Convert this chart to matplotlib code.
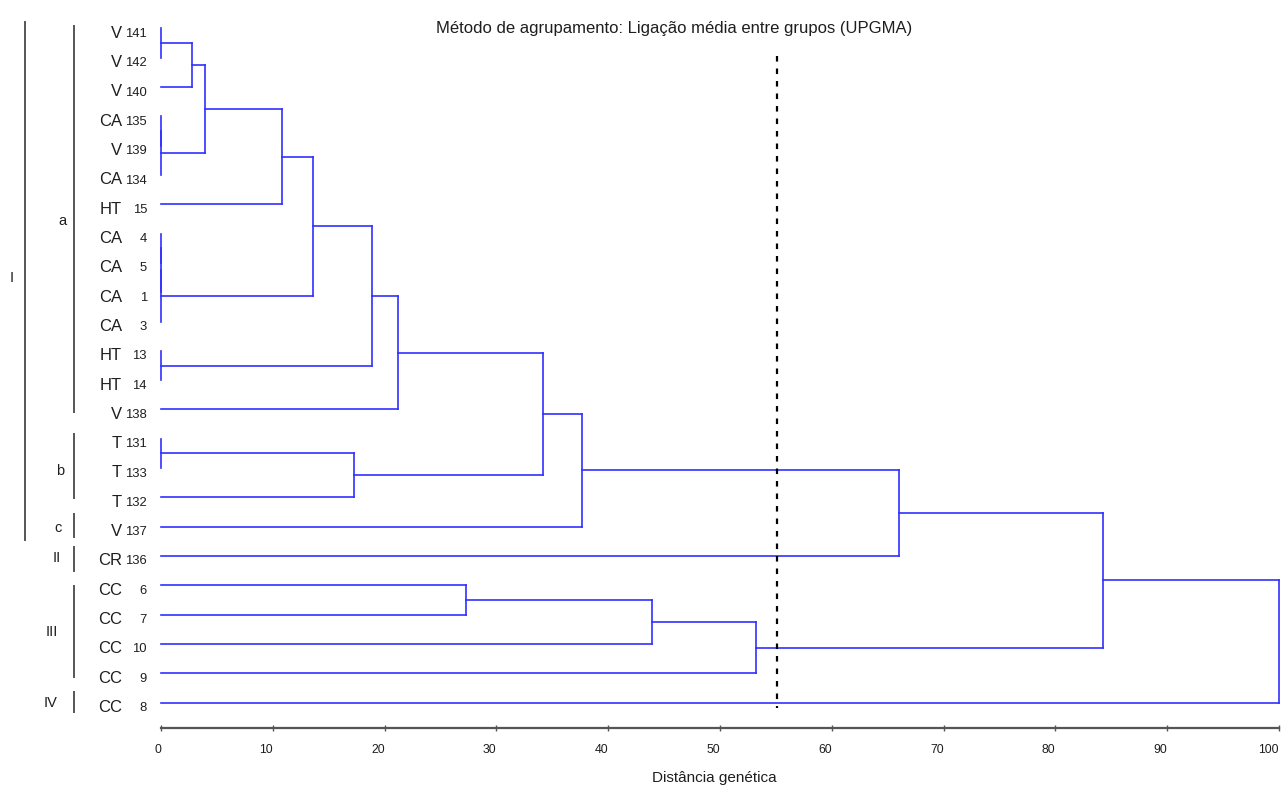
import matplotlib
matplotlib.use("Agg")
import matplotlib.pyplot as plt
from matplotlib.transforms import blended_transform_factory

plt.rcParams["font.family"] = ["Liberation Sans", "DejaVu Sans"]
plt.rcParams["lines.scale_dashes"] = False

# leaves, top to bottom
LEAF_PREFIX = ["V", "V", "V", "CA", "V", "CA", "HT", "CA", "CA", "CA", "CA", "HT",
               "HT", "V", "T", "T", "T", "V", "CR", "CC", "CC", "CC", "CC", "CC"]
LEAF_NUM = ["141", "142", "140", "135", "139", "134", "15", "4", "5", "1", "3", "13",
            "14", "138", "131", "133", "132", "137", "136", "6", "7", "10", "9", "8"]

# merges: (child a, child b, distance); leaves are 0..23, new clusters 24, 25, ...
MERGES = [
    (0, 1, 0.0), (24, 2, 2.8), (3, 4, 0.0), (26, 5, 0.0), (25, 27, 3.9),
    (28, 6, 10.8), (7, 8, 0.0), (30, 9, 0.0), (31, 10, 0.0), (29, 32, 13.6),
    (11, 12, 0.0), (33, 34, 18.9), (35, 13, 21.2), (14, 15, 0.0), (37, 16, 17.3),
    (36, 38, 34.2), (39, 17, 37.7), (40, 18, 66.0), (19, 20, 27.3), (42, 21, 43.9),
    (43, 22, 53.2), (41, 44, 84.3), (45, 23, 100.0),
]
CUT = 55.1

# group brackets: (label, first row, last row, label row)
GROUPS_OUTER = [("I", -0.22, 17.46, 8.52)]
GROUPS_INNER = [("a", -0.09, 13.09, 6.57), ("b", 13.84, 16.02, 15.1),
                ("c", 16.57, 17.35, 17.05), ("II", 17.7, 18.52, 18.07),
                ("III", 19.03, 22.13, 20.6), ("IV", 22.64, 23.33, 23.02)]

XTICKS = list(range(0, 101, 10))

W, H = 1284, 785
fig = plt.figure(figsize=(W / 100, H / 100), dpi=100)
ax = fig.add_axes([161 / W, 1 - 728 / H, (1279 - 161) / W, (728 - 20) / H])
ax.set_xlim(0, 100)
ax.set_ylim(23.87, -0.29)

BLUE = "#3030ff"
GREY = "#555555"
INK = "#1e1e1e"

n = len(LEAF_PREFIX)
ypos = {i: float(i) for i in range(n)}
hgt = {i: 0.0 for i in range(n)}
for k, (a, b, d) in enumerate(MERGES):
    for c in (a, b):
        ax.plot([hgt[c], d], [ypos[c], ypos[c]], color=BLUE, lw=1.2, clip_on=False)
    ax.plot([d, d], [ypos[a], ypos[b]], color=BLUE, lw=1.2, clip_on=False)
    ypos[n + k] = (ypos[a] + ypos[b]) / 2
    hgt[n + k] = d

ax.plot([CUT, CUT], [0.95, 23.2], color="black", lw=1.6, dashes=[4, 5], clip_on=False)

tr = blended_transform_factory(fig.transFigure, ax.transData)
for i in range(n):
    ax.text(122 / W, i + 0.32, LEAF_PREFIX[i], transform=tr, ha="right", va="baseline",
            fontsize=12, color=INK)
    ax.text(147 / W, i + 0.29, LEAF_NUM[i], transform=tr, ha="right", va="baseline",
            fontsize=9.4, color=INK)

for lab, y0, y1, yl in GROUPS_OUTER:
    ax.plot([25 / W, 25 / W], [y0, y1], transform=tr, color=GREY, lw=1.4, clip_on=False)
    ax.text(12 / W, yl, lab, transform=tr, ha="center", va="center", fontsize=10.5, color=INK)
lab_x = {"a": 62, "b": 60, "c": 58, "II": 57, "III": 52, "IV": 51}
for lab, y0, y1, yl in GROUPS_INNER:
    ax.plot([74 / W, 74 / W], [y0, y1], transform=tr, color=GREY, lw=1.4, clip_on=False)
    ax.text(lab_x[lab] / W, yl, lab, transform=tr, ha="center", va="center", fontsize=10.5,
            color=INK)

for s in ("top", "left", "right"):
    ax.spines[s].set_visible(False)
ax.spines["bottom"].set_color(GREY)
ax.spines["bottom"].set_linewidth(1.6)
ax.set_yticks([])
ax.set_xticks(XTICKS)
ax.set_xticklabels([str(t) for t in XTICKS])
ax.tick_params(axis="x", direction="inout", length=5, width=1, color=GREY,
               labelsize=8.8, labelcolor=INK, pad=9)
for lbl in ax.get_xticklabels():
    lbl.set_ha("right")

fig.text(674 / W, 1 - 28 / H, "Método de agrupamento: Ligação média entre grupos (UPGMA)",
         ha="center", va="center", fontsize=12, color=INK)
fig.text(714 / W, 1 - 782 / H, "Distância genética", ha="center", va="baseline",
         fontsize=11, color=INK)

fig.savefig("out.png", dpi=100)
